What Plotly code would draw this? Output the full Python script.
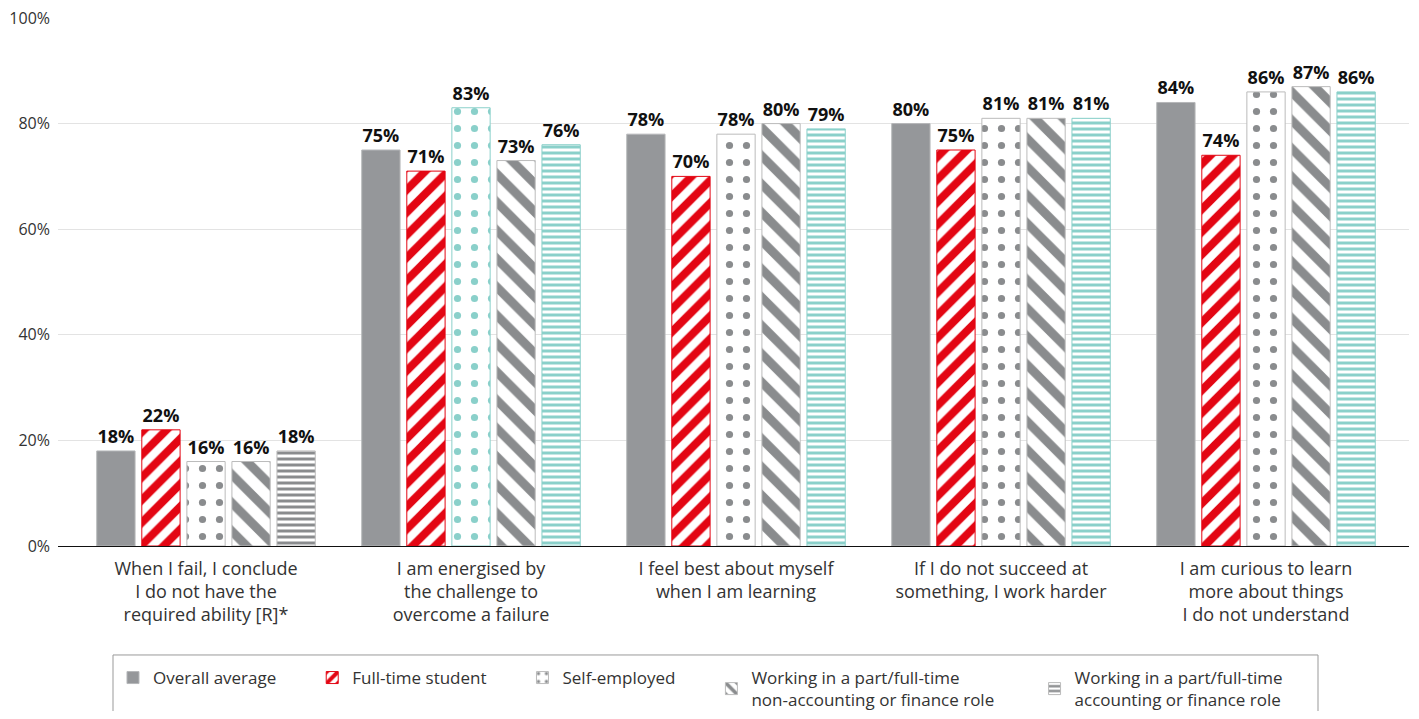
import plotly.graph_objects as go

categories = [
    "When I fail, I conclude<br>I do not have the<br>required ability [R]*",
    "I am energised by<br>the challenge to<br>overcome a failure",
    "I feel best about myself<br>when I am learning",
    "If I do not succeed at<br>something, I work harder",
    "I am curious to learn<br>more about things<br>I do not understand",
]
series_names = [
    "Overall average",
    "Full-time student",
    "Self-employed",
    "Working in a part/full-time<br>non-accounting or finance role",
    "Working in a part/full-time<br>accounting or finance role",
]
overall = [18, 75, 78, 80, 84]
student = [22, 71, 70, 75, 74]
self_employed = [16, 83, 78, 81, 86]
non_accounting = [16, 73, 80, 81, 87]
accounting = [18, 76, 79, 81, 86]

GREY = "#95979a"
GREY2 = "#8a8c8e"
RED = "#e30613"
TEAL = "#8ad0ca"

self_colors = [GREY2, TEAL, GREY2, GREY2, GREY2]
acc_colors = [GREY2, TEAL, TEAL, TEAL, TEAL]

values = [overall, student, self_employed, non_accounting, accounting]
shapes = ["", "/", ".", "\\", "-"]
fgs = [GREY, [RED] * 5, self_colors, [GREY2] * 5, acc_colors]
edge = [GREY, [RED] * 5, ["#bbbbbb", TEAL, "#bbbbbb", "#bbbbbb", "#bbbbbb"],
        ["#bbbbbb"] * 5, ["#bbbbbb", TEAL, TEAL, TEAL, TEAL]]
sizes = [8, 16, 17, 20, 6]
solids = [0.3, 0.5, 0.14, 0.45, 0.5]
pads = [7, 7, 7, 8, 0]

FONT = "Open Sans"

fig = go.Figure()
for i in range(5):
    if i == 0:
        marker = dict(color=GREY, line=dict(color="#b5b7b9", width=1))
    else:
        marker = dict(
            color="white",
            line=dict(color=edge[i], width=1),
            pattern=dict(shape=shapes[i], fgcolor=fgs[i], bgcolor="white",
                         size=sizes[i], solidity=solids[i], fillmode="overlay",
                         fgopacity=1),
        )
    fig.add_trace(go.Bar(
        x=categories, y=values[i], name=series_names[i] + "\u00a0" * pads[i],
        marker=marker,
        text=[f"<b>{v}%</b>" for v in values[i]], textposition="outside",
        textfont=dict(size=18, color="#111", family=FONT),
        cliponaxis=False,
    ))

# legend frame (bottom runs past the page edge, as in the original)
fig.add_shape(type="rect", xref="paper", yref="paper",
              x0=(105 - 50) / 1351, x1=(1310 - 50) / 1351,
              y0=-0.45, y1=-0.2064,
              line=dict(color="#999", width=1), fillcolor="rgba(0,0,0,0)", layer="below")

fig.update_layout(
    width=1403, height=703,
    margin=dict(l=50, r=2, t=10, b=165, autoexpand=False),
    plot_bgcolor="white", paper_bgcolor="white",
    barmode="group", bargap=0.15, bargroupgap=0.15,
    font=dict(family=FONT, size=16, color="#333"),
    xaxis=dict(range=[-0.5585, 4.5396], showline=True, linecolor="#111", linewidth=1,
               ticks="", ticklabelstandoff=6, automargin=False,
               tickfont=dict(size=18, color="#333")),
    yaxis=dict(range=[0, 100], tickvals=[0, 20, 40, 60, 80, 100],
               ticktext=["0%", "20%", "40%", "60%", "80%", "100%"],
               gridcolor="#e3e3e3", gridwidth=1, zeroline=False, automargin=False,
               ticklabeloverflow="allow", ticklabelstandoff=7,
               tickfont=dict(size=16, color="#333")),
    legend=dict(orientation="h", x=0.0407, xanchor="left",
                yref="container", y=1 - 652 / 703, yanchor="top",
                borderwidth=0, bgcolor="rgba(0,0,0,0)", font=dict(size=17, color="#333"),
                traceorder="normal"),
    showlegend=True,
)

fig.write_html("out.html")
